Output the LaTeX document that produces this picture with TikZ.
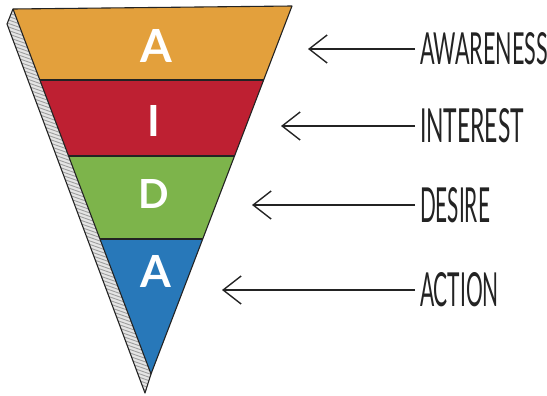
\documentclass[tikz,border=0pt]{standalone}
\usepackage{fontspec}
\setmainfont{Lato}
\usetikzlibrary{arrows.meta}
\definecolor{cOrange}{RGB}{227,160,60}
\definecolor{cRed}{RGB}{190,32,50}
\definecolor{cGreen}{RGB}{125,180,75}
\definecolor{cBlue}{RGB}{40,120,185}
\definecolor{ink}{RGB}{35,35,35}
\tikzset{
  band/.style={draw=ink, line width=1.1pt, line join=round},
  letter/.style={text=white, inner sep=0pt, font=\bfseries},
  lab/.style={anchor=west, inner sep=0pt, outer sep=5pt, text=ink, font=\mdseries},
  arr/.style={draw=ink, line width=1.4pt, -{Straight Barb[length=18pt, width=28pt, line width=1.4pt]}},
}
\begin{document}
\begin{tikzpicture}[x=1pt, y=-1pt]
\useasboundingbox (0,0) rectangle (547,396);
% side face
\coordinate (TL) at (13,9);
\coordinate (OT) at (7,24);
\coordinate (TIP) at (145,393);
\coordinate (AP) at (151,374);
\coordinate (TR) at (292,6);
\begin{scope}
  \clip (TL) -- (OT) -- (TIP) -- (AP) -- cycle;
  \fill[gray!20] (0,0) rectangle (300,400);
  \foreach \y in {10,13.5,...,400} {
    \draw[gray!75, line width=0.9pt] (0,\y) -- (200,\y+70);
  }
\end{scope}
\draw[band, fill=none] (TL) -- (OT) -- (TIP) -- (AP);
% bands
\coordinate (L1) at (39.8,80);  \coordinate (R1) at (263.6,80);
\coordinate (L2) at (68.6,156); \coordinate (R2) at (234.5,156);
\coordinate (L3) at (100,239);  \coordinate (R3) at (202.7,239);
\fill[cOrange] (TL) -- (TR) -- (R1) -- (L1) -- cycle;
\fill[cRed] (L1) -- (R1) -- (R2) -- (L2) -- cycle;
\fill[cGreen] (L2) -- (R2) -- (R3) -- (L3) -- cycle;
\fill[cBlue] (L3) -- (R3) -- (AP) -- cycle;
\draw[band] (L1) -- (R1);
\draw[band] (L2) -- (R2);
\draw[band] (L3) -- (R3);
\draw[band] (TL) -- (TR) -- (AP) -- cycle;
% letters
\node[letter] (la) at (156,46) {\resizebox{!}{33pt}{A}};
\node[letter] (li) at (154,121) {\resizebox{!}{31pt}{I}};
\node[letter] (ld) at (154,194) {\resizebox{!}{29pt}{D}};
\node[letter] (lb) at (156,271) {\resizebox{!}{32pt}{A}};
% labels
\node[lab] (aw) at (415,49) {\resizebox{128pt}{32pt}{AWARENESS}};
\node[lab] (in) at (415,126) {\resizebox{104pt}{34pt}{INTEREST}};
\node[lab] (de) at (415,205) {\resizebox{70pt}{35pt}{DESIRE}};
\node[lab] (ac) at (415,290) {\resizebox{79pt}{34pt}{ACTION}};
% arrow heads
\coordinate (h1) at (308,49);
\coordinate (h2) at (281,126);
\coordinate (h3) at (252,205);
\coordinate (h4) at (222,290);
\draw[arr] (aw.west) -- (h1);
\draw[arr] (in.west) -- (h2);
\draw[arr] (de.west) -- (h3);
\draw[arr] (ac.west) -- (h4);
\end{tikzpicture}
\end{document}
